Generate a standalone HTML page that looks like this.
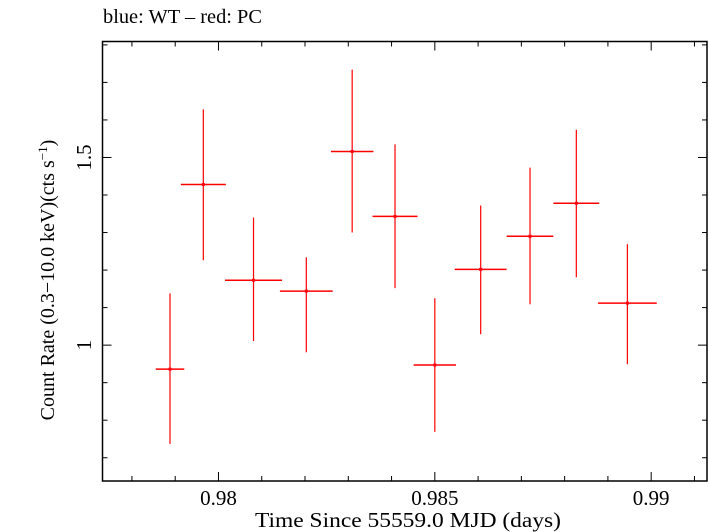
<!DOCTYPE html>
<html><head><meta charset="utf-8"><style>
body{margin:0;background:#fff}
svg{display:block;font-family:"Liberation Serif",serif}
</style></head><body>
<svg width="709" height="532" viewBox="0 0 709 532" xmlns="http://www.w3.org/2000/svg">
<text x="103" y="23" font-size="20" textLength="159" lengthAdjust="spacingAndGlyphs">blue: WT – red: PC</text>
<g id="axes"></g>
<g id="marks"></g>
<text x="408" y="527" font-size="21" text-anchor="middle" textLength="306" lengthAdjust="spacingAndGlyphs">Time Since 55559.0 MJD (days)</text>
<text transform="translate(54,280) rotate(-90)" font-size="20" text-anchor="middle">Count Rate (0.3−10.0 keV)(cts s<tspan dy="-7" font-size="13">−1</tspan><tspan dy="7">)</tspan></text>
</svg>
<script>
const times=[0.97888,0.97965,0.98081,0.98203,0.98309,0.98408,0.98500,0.98606,0.98720,0.98827,0.98945];
const timeErr=[0.00033,0.00052,0.00066,0.00061,0.00049,0.00052,0.00049,0.00060,0.00054,0.00053,0.00068];
const rates=[0.936,1.428,1.173,1.144,1.516,1.343,0.947,1.202,1.290,1.378,1.112];
const rateHi=[1.138,1.628,1.340,1.234,1.734,1.535,1.125,1.372,1.473,1.574,1.269];
const rateLo=[0.737,1.226,1.011,0.981,1.300,1.152,0.769,1.029,1.109,1.181,0.949];
const xTicks=[0.98,0.985,0.99];
const xTickLabels=["0.98","0.985","0.99"];
const yTicks=[1,1.5];
const yTickLabels=["1","1.5"];
const L=102.5,R=707,T=41.5,B=481;
const x0=0.97732,x1=0.99129,y0=0.638,y1=1.809;
const X=v=>L+(v-x0)/(x1-x0)*(R-L);
const Y=v=>B-(v-y0)/(y1-y0)*(B-T);
const NS="http://www.w3.org/2000/svg";
function mk(tag,attrs,parent){const e=document.createElementNS(NS,tag);for(const k in attrs)e.setAttribute(k,attrs[k]);parent.appendChild(e);return e;}
const ax=document.getElementById('axes'),mg=document.getElementById('marks');
const fr=mk('rect',{x:L,y:T,width:R-L,height:B-T,fill:'none',stroke:'#000','stroke-width':1.5},ax);


for(let i=978;i<=991;i++){const v=i/1000;const px=X(v);if(px<L||px>R)continue;const major=i%5===0;const len=major?9:5;
 const t1=mk('line',{x1:px,y1:B,x2:px,y2:B-len,stroke:'#000','stroke-width':1},ax);
 
 
 const t2=mk('line',{x1:px,y1:T,x2:px,y2:T+len,stroke:'#000','stroke-width':1},ax);
 
 }
for(let i=7;i<=18;i++){const v=i/10;const py=Y(v);if(py<T||py>B)continue;const major=i%5===0;const len=major?9:5;
 const t1=mk('line',{x1:L,y1:py,x2:L+len,y2:py,stroke:'#000','stroke-width':1},ax);
 
 
 const t2=mk('line',{x1:R,y1:py,x2:R-len,y2:py,stroke:'#000','stroke-width':1},ax);
 
 }
xTicks.forEach((v,i)=>{const t=mk('text',{x:X(v),y:505,'font-size':21,'text-anchor':'middle'},ax);t.textContent=xTickLabels[i];
 
 });
yTicks.forEach((v,i)=>{const t=mk('text',{transform:`translate(91,${Y(v)}) rotate(-90)`,'font-size':21,'text-anchor':'middle'},ax);t.textContent=yTickLabels[i];
 
 });
times.forEach((t,i)=>{const g=mk('g',{},mg);
 
 
 mk('line',{x1:X(t-timeErr[i]),y1:Y(rates[i]),x2:X(t+timeErr[i]),y2:Y(rates[i]),stroke:'#f00','stroke-width':1.5},g);
 mk('line',{x1:X(t),y1:Y(rateHi[i]),x2:X(t),y2:Y(rateLo[i]),stroke:'#f00','stroke-width':1.2},g);
 mk('rect',{x:X(t)-1.5,y:Y(rates[i])-1.5,width:3,height:3,fill:'#f00'},g);});
</script>
</body></html>
